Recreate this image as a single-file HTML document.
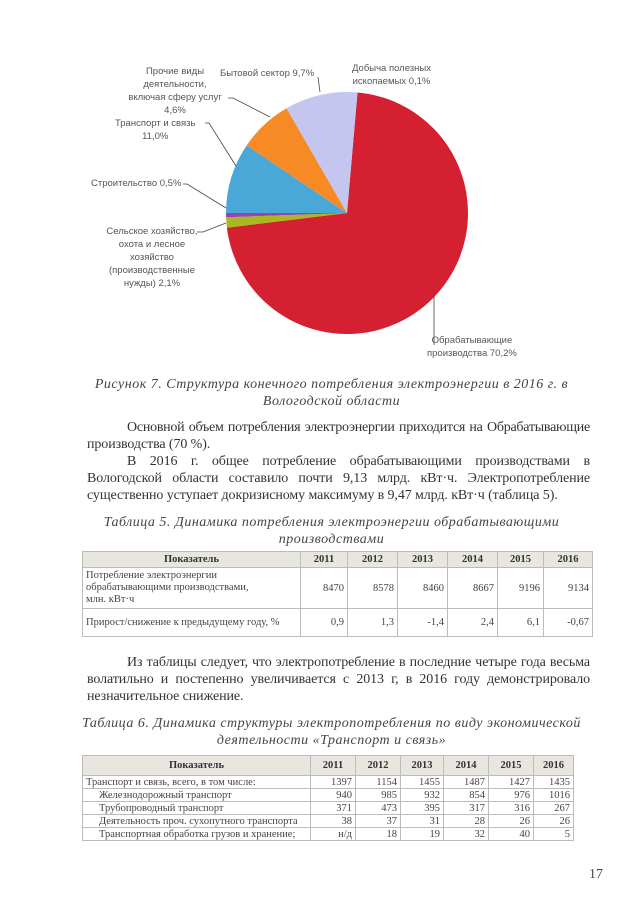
<!DOCTYPE html>
<html><head><meta charset="utf-8"><style>
body{margin:0;width:640px;height:905px;background:#fff;position:relative;overflow:hidden;font-family:"Liberation Serif","Noto Serif CJK SC",serif;color:#333}
.a{position:absolute}
.lbl{font-family:"Liberation Sans","DejaVu Sans",sans-serif;font-size:9.5px;color:#555;line-height:13px;white-space:nowrap}
.cap{font-style:italic;font-size:14px;color:#444;text-align:center;line-height:17px;letter-spacing:0.5px;white-space:nowrap}
.ln{position:absolute;left:87px;width:503px;font-size:14px;line-height:17px;color:#333;white-space:nowrap;text-align:justify;text-align-last:justify;letter-spacing:-0.1px}
.ln.i{left:127px;width:463px}
.ln.e{text-align-last:left}
table{border-collapse:collapse;position:absolute;table-layout:fixed;color:#444}
td{border:1px solid #bbb;padding:0 3px;font-size:10.5px;text-align:right;white-space:nowrap;overflow:hidden}
td.l{text-align:left}
tr.h td{background:#e9e6df;font-weight:bold;text-align:center;color:#333}
</style></head><body>
<svg class="a" style="left:0;top:0" width="640" height="400">
<path d="M347,213 L357.5,92.5 A121,121 0 1 1 226.9,227.7 Z" fill="#d42030"/>
<path d="M347,213 L226.9,227.7 A121,121 0 0 1 226.1,217.2 Z" fill="#a8b820"/>
<path d="M347,213 L226.1,217.2 A121,121 0 0 1 226,213 Z" fill="#9a40b0"/>
<path d="M347,213 L226,213 A121,121 0 0 1 246.7,145.4 Z" fill="#4aa8d8"/>
<path d="M347,213 L246.7,145.4 A121,121 0 0 1 286.5,108.2 Z" fill="#f68a24"/>
<path d="M347,213 L286.5,108.2 A121,121 0 0 1 357.5,92.5 Z" fill="#c4c6f0"/>
<g stroke="#444" fill="none" stroke-width="0.8">
<polyline points="434,345 434,295"/>
<polyline points="197,232 203,232 226,223"/>
<polyline points="183,184 187,184 226,208"/>
<polyline points="205,123 209,123 236,166"/>
<polyline points="228,98 233,98 270,117"/>
<polyline points="318,77 320,92"/>
</g>
</svg>
<div class="a lbl" style="left:120px;top:65px;width:110px;text-align:center">Прочие виды<br>деятельности,<br>включая сферу услуг<br>4,6%</div>
<div class="a lbl" style="left:220px;top:67px">Бытовой сектор 9,7%</div>
<div class="a lbl" style="left:352px;top:62px;text-align:center">Добыча полезных<br>ископаемых 0,1%</div>
<div class="a lbl" style="left:115px;top:117px;text-align:center">Транспорт и связь<br>11,0%</div>
<div class="a lbl" style="left:91px;top:177px">Строительство 0,5%</div>
<div class="a lbl" style="left:98px;top:225px;width:108px;text-align:center">Сельское хозяйство,<br>охота и лесное<br>хозяйство<br>(производственные<br>нужды) 2,1%</div>
<div class="a lbl" style="left:427px;top:334px;text-align:center">Обрабатывающие<br>производства 70,2%</div>
<div class="a cap" style="left:80px;top:376px;width:503px">Рисунок 7. Структура конечного потребления электроэнергии в 2016 г. в<br>Вологодской области</div>
<div class="ln i" style="top:419px;letter-spacing:-0.25px">Основной объем потребления электроэнергии приходится на Обрабатывающие</div>
<div class="ln e" style="top:436px">производства (70 %).</div>
<div class="ln i" style="top:453px">В 2016 г. общее потребление обрабатывающими производствами в</div>
<div class="ln" style="top:470px">Вологодской области составило почти 9,13 млрд. кВт·ч. Электропотребление</div>
<div class="ln e" style="top:487px">существенно уступает докризисному максимуму в 9,47 млрд. кВт·ч (таблица 5).</div>
<div class="a cap" style="left:80px;top:514px;width:503px">Таблица 5. Динамика потребления электроэнергии обрабатывающими<br>производствами</div>
<table style="left:82px;top:551px;width:510px">
<colgroup><col style="width:218px"><col style="width:47px"><col style="width:50px"><col style="width:50px"><col style="width:50px"><col style="width:46px"><col style="width:49px"></colgroup>
<tr class="h" style="height:16px"><td>Показатель</td><td>2011</td><td>2012</td><td>2013</td><td>2014</td><td>2015</td><td>2016</td></tr>
<tr style="height:41px"><td class="l" style="line-height:12px">Потребление электроэнергии<br>обрабатывающими производствами,<br>млн. кВт·ч</td><td>8470</td><td>8578</td><td>8460</td><td>8667</td><td>9196</td><td>9134</td></tr>
<tr style="height:28px"><td class="l">Прирост/снижение к предыдущему году, %</td><td>0,9</td><td>1,3</td><td>-1,4</td><td>2,4</td><td>6,1</td><td>-0,67</td></tr>
</table>
<div class="ln i" style="top:654px">Из таблицы следует, что электропотребление в последние четыре года весьма</div>
<div class="ln" style="top:671px">волатильно и постепенно увеличивается с 2013 г, в 2016 году демонстрировало</div>
<div class="ln e" style="top:688px">незначительное снижение.</div>
<div class="a cap" style="left:80px;top:715px;width:503px">Таблица 6. Динамика структуры электропотребления по виду экономической<br>деятельности «Транспорт и связь»</div>
<table style="left:82px;top:755px;width:491px">
<colgroup><col style="width:228px"><col style="width:45px"><col style="width:45px"><col style="width:43px"><col style="width:45px"><col style="width:45px"><col style="width:40px"></colgroup>
<tr class="h" style="height:20px"><td>Показатель</td><td>2011</td><td>2012</td><td>2013</td><td>2014</td><td>2015</td><td>2016</td></tr>
<tr style="height:13px"><td class="l">Транспорт и связь, всего, в том числе:</td><td>1397</td><td>1154</td><td>1455</td><td>1487</td><td>1427</td><td>1435</td></tr>
<tr style="height:13px"><td class="l" style="padding-left:16px">Железнодорожный транспорт</td><td>940</td><td>985</td><td>932</td><td>854</td><td>976</td><td>1016</td></tr>
<tr style="height:13px"><td class="l" style="padding-left:16px">Трубопроводный транспорт</td><td>371</td><td>473</td><td>395</td><td>317</td><td>316</td><td>267</td></tr>
<tr style="height:13px"><td class="l" style="padding-left:16px">Деятельность проч. сухопутного транспорта</td><td>38</td><td>37</td><td>31</td><td>28</td><td>26</td><td>26</td></tr>
<tr style="height:13px"><td class="l" style="padding-left:16px">Транспортная обработка грузов и хранение;</td><td>н/д</td><td>18</td><td>19</td><td>32</td><td>40</td><td>5</td></tr>
</table>
<div class="a" style="left:589px;top:867px;font-size:14px;color:#444">17</div>
</body></html>
